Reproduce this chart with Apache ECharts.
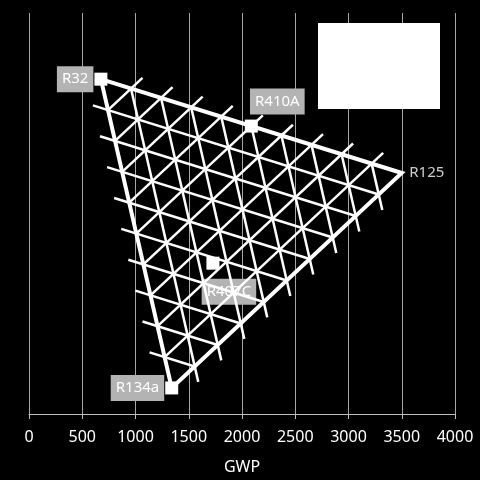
<!DOCTYPE html>
<html>
<head>
<meta charset="utf-8">
<script src="https://cdn.jsdelivr.net/npm/echarts@6/dist/echarts.min.js"></script>
<style>
html,body{margin:0;padding:0;background:#000;}
#main{width:480px;height:480px;}
</style>
</head>
<body>
<div id="main"></div>
<script>
// 纯组分 (三角形顶点)
const pureNames = ['R32', 'R125', 'R134a']
const pureGwp = [675, 3500, 1340]
const pureY = [83.5, 60.1, 6.5]   // 隐藏的y轴 (0-100)

// 混合制冷剂 质量分数 R32 / R125 / R134a
const blendNames = ['R410A', 'R407C']
const blendR32 = [0.50, 0.23]
const blendR125 = [0.50, 0.25]
const blendR134a = [0.00, 0.52]

// 三元网格
const gridSteps = [0.1, 0.2, 0.3, 0.4, 0.5, 0.6, 0.7, 0.8, 0.9]
const tickExt = 0.05

// x轴刻度
const gwpTicks = [0, 500, 1000, 1500, 2000, 2500, 3000, 3500, 4000]

// 组分 -> 坐标
function tern(a, b, c){
    return [
        a * pureGwp[0] + b * pureGwp[1] + c * pureGwp[2],
        a * pureY[0] + b * pureY[1] + c * pureY[2]
    ]
}

let gridLines = []
gridSteps.forEach(f => {
    // R134a 恒定 (平行于 R32-R125), 伸出左边
    gridLines.push({coords: [tern(1 - f + tickExt, -tickExt, f), tern(0, 1 - f, f)]})
    // R125 恒定 (平行于 R32-R134a), 伸出右边
    gridLines.push({coords: [tern(1 - f, f, 0), tern(-tickExt, f, 1 - f + tickExt)]})
    // R32 恒定 (平行于 R125-R134a), 伸出上边
    gridLines.push({coords: [tern(f, 0, 1 - f), tern(f, 1 - f + tickExt, -tickExt)]})
})

let edge = [tern(1, 0, 0), tern(0, 1, 0), tern(0, 0, 1), tern(1, 0, 0)]

let labelBase = {
    show: true,
    color: '#fff',
    backgroundColor: '#b3b3b3',
    fontSize: 15,
    fontFamily: 'Noto Sans',
    padding: [6, 5, 5, 5]
}

let pointData = [
    {name: 'R32', value: tern(1, 0, 0), label: Object.assign({}, labelBase, {position: 'left', distance: 1})},
    {name: 'R134a', value: tern(0, 0, 1), label: Object.assign({}, labelBase, {position: 'left', distance: 1})}
]
blendNames.forEach((n, i) => {
    let lb = i == 0
        ? Object.assign({}, labelBase, {position: 'top', distance: 5, offset: [26, 0]})
        : Object.assign({}, labelBase, {position: 'bottom', distance: 9, offset: [16, 0]})
    pointData.push({name: n, value: tern(blendR32[i], blendR125[i], blendR134a[i]), label: lb})
})

let chart = echarts.init(document.getElementById('main'))

let option = {
    backgroundColor: '#000',
    animation: false,
    grid: {
        left: 29,
        right: 25,
        top: 13,
        bottom: 66
    },
    xAxis: {
        type: 'value',
        min: gwpTicks[0],
        max: gwpTicks[gwpTicks.length - 1],
        interval: 500,
        name: 'GWP',
        nameLocation: 'middle',
        nameGap: 45,
        nameTextStyle: {
            color: '#fff',
            fontSize: 16,
            fontFamily: 'Noto Sans'
        },
        axisLine: {
            lineStyle: {color: '#bfbfbf', width: 1}
        },
        axisTick: {
            show: true,
            length: 5,
            lineStyle: {color: '#bfbfbf'}
        },
        axisLabel: {
            color: '#fff',
            fontSize: 16,
            fontFamily: 'Noto Sans',
            margin: 15,
            formatter: v => String(v)
        },
        splitLine: {
            show: true,
            lineStyle: {color: '#a6a6a6', width: 1}
        }
    },
    yAxis: {
        type: 'value',
        min: 0,
        max: 100,
        show: false
    },
    graphic: [{
        type: 'rect',
        z: 100,
        shape: {x: 318, y: 23, width: 122, height: 86},
        style: {fill: '#fff'}
    }],
    series: [
        {
            type: 'scatter',
            z: 2,
            symbol: 'rect',
            symbolSize: 13,
            itemStyle: {color: '#fff', opacity: 1},
            label: {formatter: '{b}'},
            data: pointData
        },
        {
            type: 'scatter',
            z: 2,
            symbolSize: 1,
            itemStyle: {color: 'rgba(0,0,0,0)'},
            label: {
                show: true,
                position: 'right',
                distance: 7,
                formatter: '{b}',
                color: '#fff',
                fontSize: 15,
                fontFamily: 'Noto Sans'
            },
            data: [{name: pureNames[1], value: tern(0, 1, 0)}]
        },
        {
            type: 'lines',
            coordinateSystem: 'cartesian2d',
            z: 3,
            silent: true,
            lineStyle: {color: '#fff', width: 2.5, opacity: 1},
            data: gridLines
        },
        {
            type: 'lines',
            coordinateSystem: 'cartesian2d',
            polyline: true,
            z: 4,
            silent: true,
            lineStyle: {color: '#fff', width: 4, opacity: 1, join: 'miter'},
            data: [{coords: edge}]
        }
    ]
}

chart.setOption(option)
</script>
</body>
</html>
